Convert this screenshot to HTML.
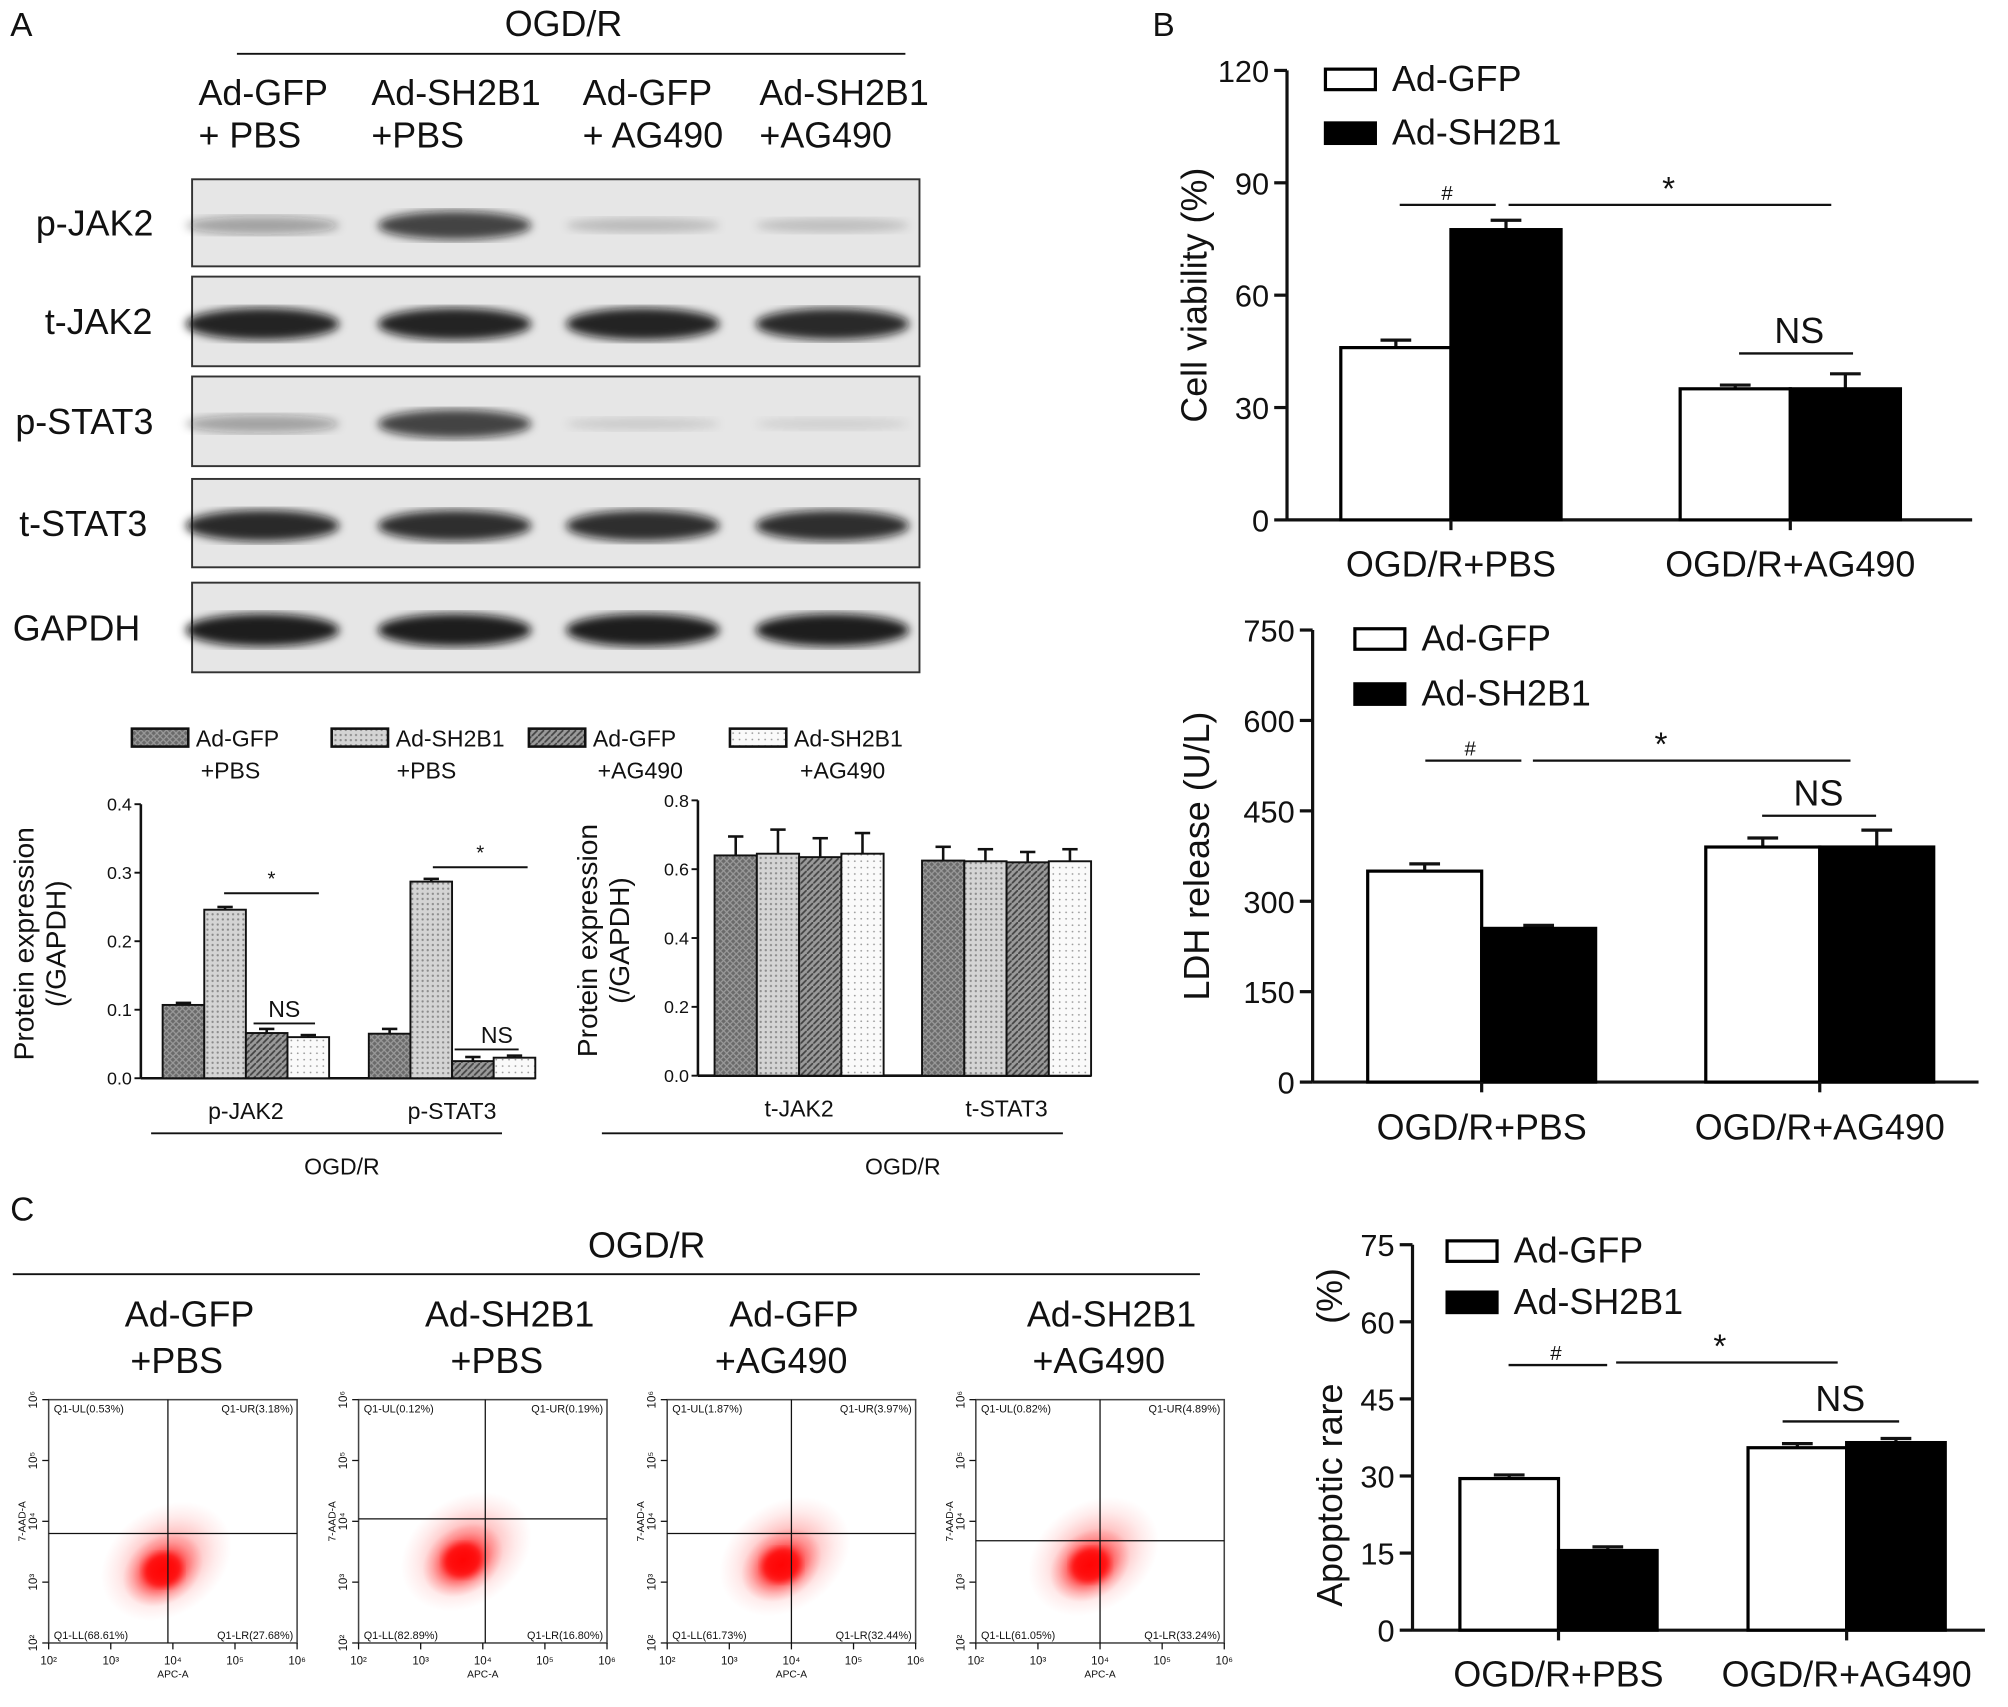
<!DOCTYPE html>
<html><head><meta charset="utf-8"><style>
html,body{margin:0;padding:0;background:#fff}
svg{display:block;font-family:"Liberation Sans",Arial,sans-serif}
</style></head><body>
<svg id="fig" width="2008" height="1707" viewBox="0 0 1568 1333" preserveAspectRatio="none" xmlns="http://www.w3.org/2000/svg">
<defs>
<filter id="blur3"><feGaussianBlur stdDeviation="3.5"/></filter>
<filter id="blur1"><feGaussianBlur stdDeviation="3"/></filter>
<pattern id="p1" width="5" height="5" patternUnits="userSpaceOnUse"><rect width="5" height="5" fill="#6a6a6a"/><path d="M0 0L5 5M5 0L0 5" stroke="#9a9a9a" stroke-width="1"/></pattern>
<pattern id="p2" width="4" height="4" patternUnits="userSpaceOnUse"><rect width="4" height="4" fill="#d4d4d4"/><circle cx="2" cy="2" r="0.9" fill="#8a8a8a"/></pattern>
<pattern id="p3" width="5" height="5" patternUnits="userSpaceOnUse"><rect width="5" height="5" fill="#9a9a9a"/><path d="M0 5L5 0" stroke="#444" stroke-width="1.4"/></pattern>
<pattern id="p4" width="5" height="5" patternUnits="userSpaceOnUse"><rect width="5" height="5" fill="#fafafa"/><circle cx="2.5" cy="2.5" r="0.7" fill="#999"/></pattern>
<radialGradient id="cloud"><stop offset="0" stop-color="#ff0000" stop-opacity="1"/><stop offset="0.4" stop-color="#ff1010" stop-opacity="0.85"/><stop offset="0.75" stop-color="#ff4040" stop-opacity="0.3"/><stop offset="1" stop-color="#ff6060" stop-opacity="0"/></radialGradient>
</defs>
</svg>
<script>
// ---------- data ----------
const blotLanes = ["Ad-GFP +PBS","Ad-SH2B1 +PBS","Ad-GFP +AG490","Ad-SH2B1 +AG490"];
const blotRows = ["p-JAK2","t-JAK2","p-STAT3","t-STAT3","GAPDH"];
const blotIntensity = [[0.35,0.8,0.2,0.18],[0.95,0.95,0.95,0.92],[0.35,0.8,0.12,0.1],[0.92,0.9,0.9,0.9],[0.98,0.98,0.98,0.98]];

const phosCats = ["p-JAK2","p-STAT3"];
const phosVals = [[0.107,0.246,0.066,0.060],[0.065,0.287,0.025,0.030]];
const phosErr = [[0.003,0.004,0.006,0.003],[0.007,0.004,0.006,0.003]];
const phosTicks = ["0.0","0.1","0.2","0.3","0.4"];
const totCats = ["t-JAK2","t-STAT3"];
const totVals = [[0.640,0.645,0.635,0.645],[0.625,0.623,0.620,0.623]];
const totErr = [[0.055,0.070,0.055,0.060],[0.040,0.035,0.030,0.035]];
const totTicks = ["0.0","0.2","0.4","0.6","0.8"];

const groupCats = ["OGD/R+PBS","OGD/R+AG490"];
const viabGFP = [46,35];
const viabSH = [77.5,35];
const viabErrGFP = [2,1];
const viabErrSH = [2.5,4];
const viabTicks = [0,30,60,90,120];
const ldhGFP = [350,390];
const ldhSH = [255,390];
const ldhErrGFP = [12,15];
const ldhErrSH = [5,28];
const ldhTicks = [0,150,300,450,600,750];
const apoGFP = [29.5,35.5];
const apoSH = [15.5,36.5];
const apoErrGFP = [0.7,0.8];
const apoErrSH = [0.7,0.8];
const apoTicks = [0,15,30,45,60,75];

const flowLabels = [["Q1-UL(0.53%)","Q1-UR(3.18%)","Q1-LL(68.61%)","Q1-LR(27.68%)"],["Q1-UL(0.12%)","Q1-UR(0.19%)","Q1-LL(82.89%)","Q1-LR(16.80%)"],["Q1-UL(1.87%)","Q1-UR(3.97%)","Q1-LL(61.73%)","Q1-LR(32.44%)"],["Q1-UL(0.82%)","Q1-UR(4.89%)","Q1-LL(61.05%)","Q1-LR(33.24%)"]];

// ---------- helpers ----------
const svg = document.getElementById('fig');
const NS = 'http://www.w3.org/2000/svg';
function mk(tag, attrs, parent){const e=document.createElementNS(NS,tag);for(const k in attrs)e.setAttribute(k,attrs[k]);(parent||svg).appendChild(e);return e;}
function txt(x,y,s,size,anchor,parent,extra){const t=mk('text',Object.assign({x:x,y:y,'font-size':size,'text-anchor':anchor||'start',fill:'#111'},extra||{}),parent);t.textContent=s;return t;}
function line(x1,y1,x2,y2,w,parent){return mk('line',{x1:x1,y1:y1,x2:x2,y2:y2,stroke:'#111','stroke-width':w||2},parent);}

// ---------- panel letters ----------
let t;
t=txt(8,28,"A",26);
t=txt(900,28,"B",26);
t=txt(8,953,"C",26);

// ---------- western blot ----------
const gA = mk('g',{});


t=txt(440,28,"OGD/R",28,'middle',gA);

line(185,42,707,42,1.5,gA);
const laneLabelX=[155,290,455,593];
const laneL1=["Ad-GFP","Ad-SH2B1","Ad-GFP","Ad-SH2B1"];
const laneL2=["+ PBS","+PBS","+ AG490","+AG490"];
laneLabelX.forEach((x,i)=>{
  const a=txt(x,82,laneL1[i],28,'start',gA);
  
  const b=txt(x,115,laneL2[i],28,'start',gA);
  
});
const rowY=[[140,208],[216,286],[294,364],[374,443],[455,525]];
const rowLabelX=[28,35,12,15,10];
const laneCx=[205,355,502,650];
blotRows.forEach((r,ri)=>{
  const [y0,y1]=rowY[ri];
  const box=mk('rect',{x:150,y:y0,width:568,height:y1-y0,fill:'#e6e6e6',stroke:'#333','stroke-width':1.5},gA);
  
  const lb=txt(rowLabelX[ri],(y0+y1)/2+10,r,28,'start',gA);
  
  const cy=(y0+y1)/2+2;
  blotIntensity[ri].forEach((v,li)=>{
    const b=mk('ellipse',{cx:laneCx[li],cy:cy,rx:60,ry:4+9*v,fill:'#111','fill-opacity':v*0.95,filter:'url(#blur3)'},gA);
    
  });
});

// ---------- small quantification charts ----------
const patIds=['url(#p1)','url(#p2)','url(#p3)','url(#p4)'];
const legX=[103,259,413,570];
const legT1=["Ad-GFP","Ad-SH2B1","Ad-GFP","Ad-SH2B1"];
const legT2=["+PBS","+PBS","+AG490","+AG490"];
const legT2x=[180,333,500,658];
legX.forEach((x,i)=>{
  const r=mk('rect',{x:x,y:569,width:44,height:14,fill:patIds[i],stroke:'#111','stroke-width':2});
  
  const a=txt(x+50,583,legT1[i],18);
  
  const b=txt(legT2x[i],608,legT2[i],18,'middle');
  
});
function smallChart(name,ax,y0,yTop,xEnd,ymax,ticks,cats,vals,errs,groupStart,barW,groupGap,titleX){
  const g=mk('g',{});
  
  
  const ys=v=>y0-(v/ymax)*(y0-yTop);
  line(ax,yTop,ax,y0,2,g);
  line(ax,y0,xEnd,y0,2,g);
  ticks.forEach((tk,i)=>{const y=ys(ymax*i/(ticks.length-1));line(ax-5,y,ax,y,1.5,g);const tt=txt(ax-7,y+5,tk,14,'end',g);});
  cats.forEach((c,ci)=>{
    const gx=groupStart+ci*groupGap;
    vals[ci].forEach((v,bi)=>{
      const x=gx+bi*barW;
      const e=errs[ci][bi];
      line(x+barW/2,ys(v),x+barW/2,ys(v+e),2,g);
      line(x+barW/2-6,ys(v+e),x+barW/2+6,ys(v+e),2,g);
      const r=mk('rect',{x:x,y:ys(v),width:barW,height:y0-ys(v),fill:patIds[bi],stroke:'#111','stroke-width':1.5},g);
      
    });
    const cl=txt(gx+2*barW,y0+32,c,18,'middle',g);
    
  });
  const p=txt(0,0,"Protein expression",22,'middle',g,{transform:`translate(${titleX},${(y0+yTop)/2+2}) rotate(-90)`});
  
  const p2=txt(0,0,"(/GAPDH)",22,'middle',g,{transform:`translate(${titleX+25},${(y0+yTop)/2+2}) rotate(-90)`});
  
  return {g,ys};
}
const c1=smallChart('phospho-protein-chart',110,842,628,418,0.4,phosTicks,phosCats,phosVals,phosErr,127,32.5,161,26);
const c2=smallChart('total-protein-chart',545,840,625,852,0.8,totTicks,totCats,totVals,totErr,558,33,162,466);
line(175,c1.ys(0.27),249,c1.ys(0.27),1.5,c1.g);txt(212,c1.ys(0.27)-6,"*",16,'middle',c1.g);
line(338,c1.ys(0.308),412,c1.ys(0.308),1.5,c1.g);txt(375,c1.ys(0.308)-6,"*",16,'middle',c1.g);
line(198,c1.ys(0.08),246,c1.ys(0.08),1.5,c1.g);txt(222,c1.ys(0.08)-5,"NS",18,'middle',c1.g);
line(355,c1.ys(0.042),405,c1.ys(0.042),1.5,c1.g);txt(388,c1.ys(0.042)-5,"NS",18,'middle',c1.g);
line(118,885,392,885,1.5,c1.g);txt(267,917,"OGD/R",18,'middle',c1.g);
line(470,885,830,885,1.5,c2.g);txt(705,917,"OGD/R",18,'middle',c2.g);

// ---------- big bar charts ----------
function bigChart(name,ax,y0,yTop,xEnd,ymax,ticks,gfp,sh,eg,es,gStart,gGap,barW,title,titleX,legX,legY,legGap,catY){
  const g=mk('g',{});
  
  
  const ys=v=>y0-(v/ymax)*(y0-yTop);
  line(ax,yTop,ax,y0,2.5,g);
  line(ax,y0,xEnd,y0,2.5,g);
  ticks.forEach(tk=>{const y=ys(tk);line(ax-10,y,ax,y,2.5,g);const tt=txt(ax-14,y+9,String(tk),24,'end',g);});
  groupCats.forEach((c,ci)=>{
    const gx=gStart+ci*gGap;
    [[gfp,eg,'#fff'],[sh,es,'#000']].forEach(([vals,errs,fill],si)=>{
      const v=vals[ci],e=errs[ci],x=gx+si*barW;
      line(x+barW/2,ys(v),x+barW/2,ys(v+e),2.5,g);
      line(x+barW/2-12,ys(v+e),x+barW/2+12,ys(v+e),2.5,g);
      const r=mk('rect',{x:x,y:ys(v),width:barW,height:y0-ys(v),fill:fill,stroke:'#000','stroke-width':2.5},g);
      
    });
    line(gx+barW,y0,gx+barW,y0+8,2.5,g);
    const cl=txt(gx+barW,catY,c,28,'middle',g);
    
  });
  const tt=txt(0,0,title,28,'middle',g,{transform:`translate(${titleX},${(y0+yTop)/2}) rotate(-90)`,style:'white-space:pre'});
  
  const l1=mk('rect',{x:legX,y:legY,width:39,height:16,fill:'#fff',stroke:'#000','stroke-width':2.5},g);
  
  const l2=mk('rect',{x:legX,y:legY+legGap,width:39,height:16,fill:'#000',stroke:'#000','stroke-width':2.5},g);
  
  const a=txt(legX+52,legY+17,"Ad-GFP",28,'start',g);
  const b=txt(legX+52,legY+legGap+17,"Ad-SH2B1",28,'start',g);
  return {g,ys};
}
function sig(g,x1,x2,y,label,lx,size){line(x1,y,x2,y,1.8,g);const s=txt(lx,y-(label==="NS"?8:4),label,size,'middle',g);}
const bv=bigChart('cell-viability-chart',1005,406,55,1540,120,viabTicks,viabGFP,viabSH,viabErrGFP,viabErrSH,1047,265,86,"Cell viability (%)",942,1035,54,42,450);
sig(bv.g,1093,1168,160,"#",1130,16);sig(bv.g,1178,1430,160,"*",1303,26);sig(bv.g,1358,1447,276,"NS",1405,28);
const bl=bigChart('ldh-release-chart',1025,845,492,1545,750,ldhTicks,ldhGFP,ldhSH,ldhErrGFP,ldhErrSH,1068,264,89,"LDH release (U/L)",944,1058,491,43,890);
sig(bl.g,1113,1188,594,"#",1148,16);sig(bl.g,1197,1445,594,"*",1297,26);sig(bl.g,1376,1465,637,"NS",1420,28);
const ba=bigChart('apoptotic-rate-chart',1103,1273,972,1550,75,apoTicks,apoGFP,apoSH,apoErrGFP,apoErrSH,1140,225,77,"Apoptotic rare      (%)",1048,1130,969,40,1317);
sig(ba.g,1178,1255,1066,"#",1215,16);sig(ba.g,1262,1435,1064,"*",1343,26);sig(ba.g,1392,1483,1110,"NS",1437,28);

// ---------- flow cytometry ----------
const gC=mk('g',{});


t=txt(505,982,"OGD/R",28,'middle',gC);
line(10,995,937,995,1.5,gC);
const flowTitleX=[148,398,620,868];
const flowT1=["Ad-GFP","Ad-SH2B1","Ad-GFP","Ad-SH2B1"];
const flowT2=["+PBS","+PBS","+AG490","+AG490"];
const flowBoxX=[38,280,521,762];
const flowV=[0.48,0.51,0.5,0.5];
const flowH=[0.55,0.49,0.55,0.58];
const cloudC=[[0.46,0.7],[0.42,0.66],[0.46,0.68],[0.46,0.68]];
flowBoxX.forEach((x0,i)=>{
  const a=txt(flowTitleX[i],1036,flowT1[i],28,'middle',gC);
  const b=txt(flowTitleX[i]-10,1072,flowT2[i],28,'middle',gC);
  const g=mk('g',{},gC);
  
  const y0=1093,w=194,h=190;
  const cx=x0+w*cloudC[i][0],cy=y0+h*cloudC[i][1];
  mk('ellipse',{cx:cx+6,cy:cy-4,rx:55,ry:42,fill:'url(#cloud)',opacity:0.35,transform:`rotate(-35 ${cx} ${cy})`},g);
  mk('ellipse',{cx:cx,cy:cy,rx:34,ry:26,fill:'url(#cloud)',opacity:0.9,transform:`rotate(-35 ${cx} ${cy})`},g);
  mk('ellipse',{cx:cx,cy:cy,rx:15,ry:13,fill:'#ff0000',opacity:0.7,filter:'url(#blur1)'},g);
  mk('rect',{x:x0,y:y0,width:w,height:h,fill:'none',stroke:'#444','stroke-width':1.2},g);
  line(x0+w*flowV[i],y0,x0+w*flowV[i],y0+h,1,g);
  line(x0,y0+h*flowH[i],x0+w,y0+h*flowH[i],1,g);
  const L=flowLabels[i];
  txt(x0+4,y0+10,L[0],8.5,'start',g);txt(x0+w-3,y0+10,L[1],8.5,'end',g);
  txt(x0+4,y0+h-3,L[2],8.5,'start',g);txt(x0+w-3,y0+h-3,L[3],8.5,'end',g);
  ["10²","10³","10⁴","10⁵","10⁶"].forEach((s,k)=>{const xx=x0+k*w/4;line(xx,y0+h,xx,y0+h+5,1,g);txt(xx,y0+h+17,s,9,'middle',g);
    const yy=y0+h-k*h/4;line(x0-5,yy,x0,yy,1,g);txt(0,0,s,9,'middle',g,{transform:`translate(${x0-9},${yy}) rotate(-90)`});});
  txt(x0+w/2,y0+h+27,"APC-A",8,'middle',g);
  txt(0,0,"7-AAD-A",8,'middle',g,{transform:`translate(${x0-18},${y0+h/2}) rotate(-90)`});
});
</script>
</body></html>
